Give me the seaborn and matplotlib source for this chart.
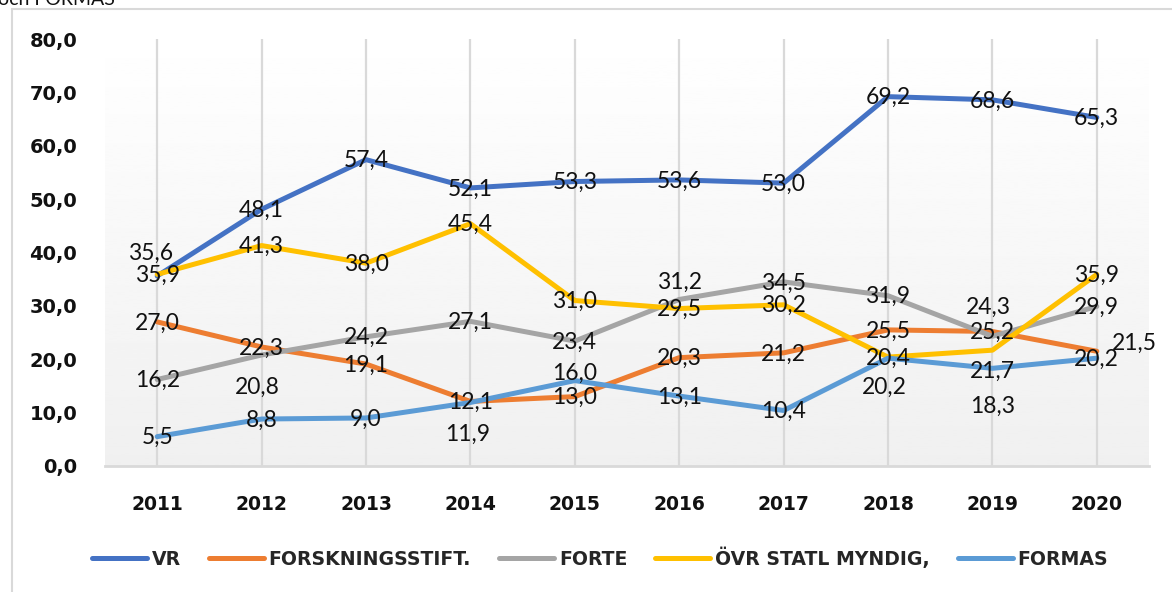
import matplotlib
matplotlib.use("Agg")
import matplotlib.pyplot as plt
from matplotlib.patches import Rectangle
import seaborn as sns
import numpy as np
import pandas as pd

years = [2011, 2012, 2013, 2014, 2015, 2016, 2017, 2018, 2019, 2020]
series_names = ["VR", "FORSKNINGSSTIFT.", "FORTE", "ÖVR STATL MYNDIG,", "FORMAS"]
vr = [35.6, 48.1, 57.4, 52.1, 53.3, 53.6, 53.0, 69.2, 68.6, 65.3]
forsk = [27.0, 22.3, 19.1, 12.1, 13.0, 20.3, 21.2, 25.5, 25.2, 21.5]
forte = [16.2, 20.8, 24.2, 27.1, 23.4, 31.2, 34.5, 31.9, 24.3, 29.9]
ovr = [35.9, 41.3, 38.0, 45.4, 31.0, 29.5, 30.2, 20.4, 21.7, 35.9]
formas = [5.5, 8.8, 9.0, 11.9, 16.0, 13.1, 10.4, 20.2, 18.3, 20.2]
colors = ["#4472C4", "#ED7D31", "#A5A5A5", "#FFC000", "#5B9BD5"]

# labels that Excel pushed away from their point (pixels: dx right, dy down)
nudges = {
    ("VR", 2011): (-7, -23),
    ("FORSKNINGSSTIFT.", 2020): (38, -8),
    ("FORTE", 2012): (-4, 32),
    ("FORTE", 2016): (0, -17),
    ("FORTE", 2019): (-4, -29),
    ("ÖVR STATL MYNDIG,", 2019): (0, 21),
    ("FORMAS", 2014): (-3, 32),
    ("FORMAS", 2015): (0, -7),
    ("FORMAS", 2018): (-4, 29),
    ("FORMAS", 2019): (0, 38),
}

df = pd.DataFrame({
    "year": years * 5,
    "value": vr + forsk + forte + ovr + formas,
    "series": [s for s in series_names for _ in years],
})

sns.set_theme(style="white")
plt.rcParams["font.family"] = ["DejaVu Sans"]

fig = plt.figure(figsize=(11.72, 5.92), dpi=100)
ax = fig.add_axes([105 / 1172, 126 / 592, 1044 / 1172, 427 / 592])

# soft vertical gradient behind the plot area
grad = np.linspace(1.0, 0.94, 256).reshape(-1, 1)
ax.imshow(grad, cmap="gray", vmin=0, vmax=1, aspect="auto",
          extent=[0, 1, 0, 1.02], transform=ax.transAxes, zorder=0,
          clip_on=False)

sns.lineplot(data=df, x="year", y="value", hue="series",
             hue_order=series_names, palette=colors, linewidth=3.6,
             ax=ax, zorder=3, solid_joinstyle="round",
             solid_capstyle="round")

for name, vals in zip(series_names, [vr, forsk, forte, ovr, formas]):
    for yr, v in zip(years, vals):
        dx, dy = nudges.get((name, yr), (0, 1))
        ax.annotate(f"{v:.1f}".replace(".", ","), (yr, v),
                    xytext=(dx, -dy), textcoords="offset pixels",
                    ha="center", va="center", fontsize=16.5,
                    family="Lato", color="#111111", zorder=5)

ax.set_xlim(2010.5, 2020.5)
ax.set_ylim(0, 80)
ax.set_xticks(years)
ax.set_xticklabels([str(y) for y in years], fontsize=13.5,
                   fontweight="bold", color="#111111")
yt = np.arange(0, 81, 10)
ax.set_yticks(yt)
ax.set_yticklabels([f"{v:.1f}".replace(".", ",") for v in yt],
                   fontsize=14, fontweight="bold", color="#111111")
ax.tick_params(axis="x", length=0, pad=21)
ax.tick_params(axis="y", length=0, pad=20)
ax.set_xlabel("")
ax.set_ylabel("")

ax.grid(axis="x", color="#d9d9d9", linewidth=1.6)
ax.grid(axis="y", visible=False)
ax.set_axisbelow(True)
for side in ["left", "right", "top"]:
    ax.spines[side].set_visible(False)
ax.spines["bottom"].set_color("#d9d9d9")
ax.spines["bottom"].set_linewidth(2)
ax.set_facecolor("none")

handles, labels = ax.get_legend_handles_labels()
ax.get_legend().remove()
leg = fig.legend(handles, labels, loc="center", ncol=5,
                 bbox_to_anchor=(0.512, 1 - 558 / 592), frameon=False,
                 handlelength=2.9, handletextpad=0.25, columnspacing=1.5,
                 prop={"weight": "bold", "size": 13.6})
for h in leg.legend_handles:
    h.set_linewidth(3.6)

# chart frame and cut-off title line from the page
fig.patches.append(Rectangle((12 / 1172, -0.1), 1.2, 1 - 9 / 592 + 0.1,
                             transform=fig.transFigure, fill=False,
                             edgecolor="#d9d9d9", linewidth=1.5))
fig.text(-2 / 1172, 1 - 5 / 592, "och FORMAS", va="baseline", ha="left",
         fontsize=14, family="Lato", color="#111111")

fig.savefig("out.png", dpi=100)
plt.close(fig)
